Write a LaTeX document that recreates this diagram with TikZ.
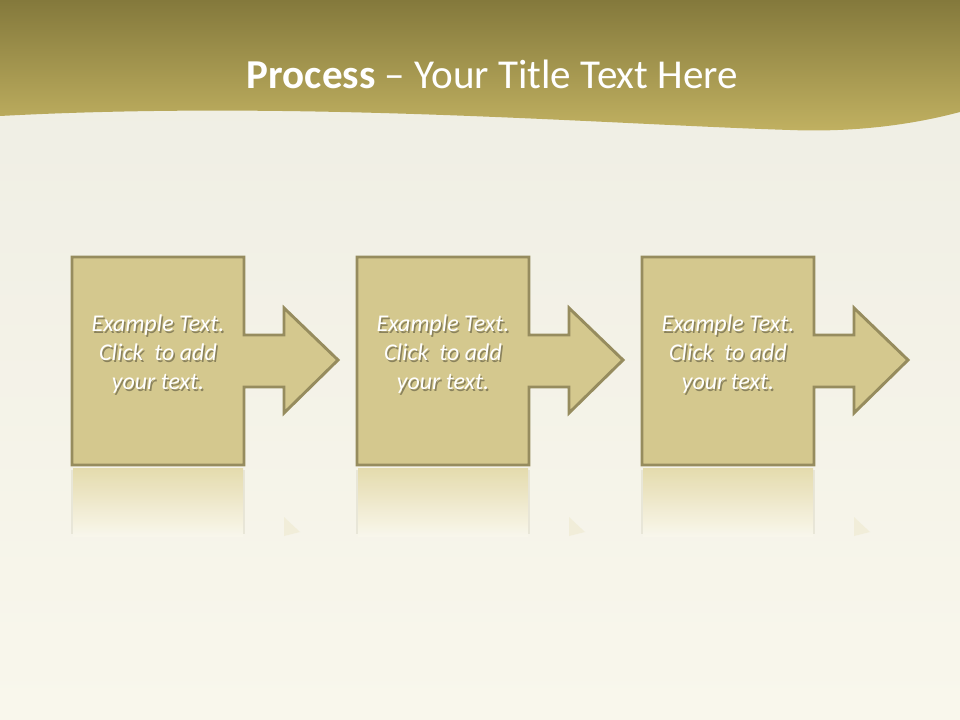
\documentclass[tikz,border=0pt]{standalone}
\usepackage{fontspec}
\setmainfont{Carlito}
\definecolor{bgtop}{RGB}{238,237,227}
\definecolor{bgbot}{RGB}{249,247,236}
\definecolor{hdtop}{RGB}{132,121,60}
\definecolor{hdbot}{RGB}{193,177,97}
\definecolor{boxfill}{RGB}{212,200,142}
\definecolor{boxline}{RGB}{150,140,94}
\definecolor{refl}{RGB}{228,218,170}
\tikzset{
  stepshape/.style={fill=boxfill,draw=boxline,line width=2.2pt,line join=miter},
  steptext/.style={text=white,font=\fontsize{18}{21.6}\selectfont\itshape,align=center},
  shadowtext/.style={text=black,opacity=0.35,font=\fontsize{18}{21.6}\selectfont\itshape,align=center},
  titletext/.style={text=white,font=\fontsize{30.8}{37}\selectfont}
}
\begin{document}
\begin{tikzpicture}[x=0.75pt,y=-0.75pt]
\useasboundingbox (0,0) rectangle (960,720);
% background
\shade[top color=bgtop,bottom color=bgbot] (0,0) rectangle (960,720);
% header wave
\shade[top color=hdtop,bottom color=hdbot]
  (0,0) -- (960,0) -- (960,112)
  .. controls (900,128) and (840,132) .. (790,130)
  .. controls (600,124) and (300,100) .. (0,116) -- cycle;
\node[titletext] (title) at (492.5,74) {\textbf{Process} – Your Title Text Here};
% steps
\foreach \i/\dx in {1/0,2/285,3/570}{
  \begin{scope}[xshift=\dx*0.75pt]
    % reflection
    \shade[top color=refl,bottom color=bgbot,opacity=0.95]
      (73,468) rectangle (243,536);
    \draw[boxline!40,line width=1pt,opacity=0.4] (72,470) -- (72,534) (244,470) -- (244,534);
    \fill[refl,opacity=0.25] (284,517) -- (300,532) -- (284,536) -- cycle;
    % shape
    \draw[stepshape] (72,257) -- (244,257) -- (244,335) -- (284,335) -- (284,308)
      -- (338,360) -- (284,413) -- (284,387) -- (244,387) -- (244,465) -- (72,465) -- cycle;
    \node[shadowtext] at (159.5,356) {Example Text.\\Click\ \ to add\\your text.};
    \node[steptext] (t\i) at (158,354) {Example Text.\\Click\ \ to add\\your text.};
  \end{scope}
}
\end{tikzpicture}
\end{document}
